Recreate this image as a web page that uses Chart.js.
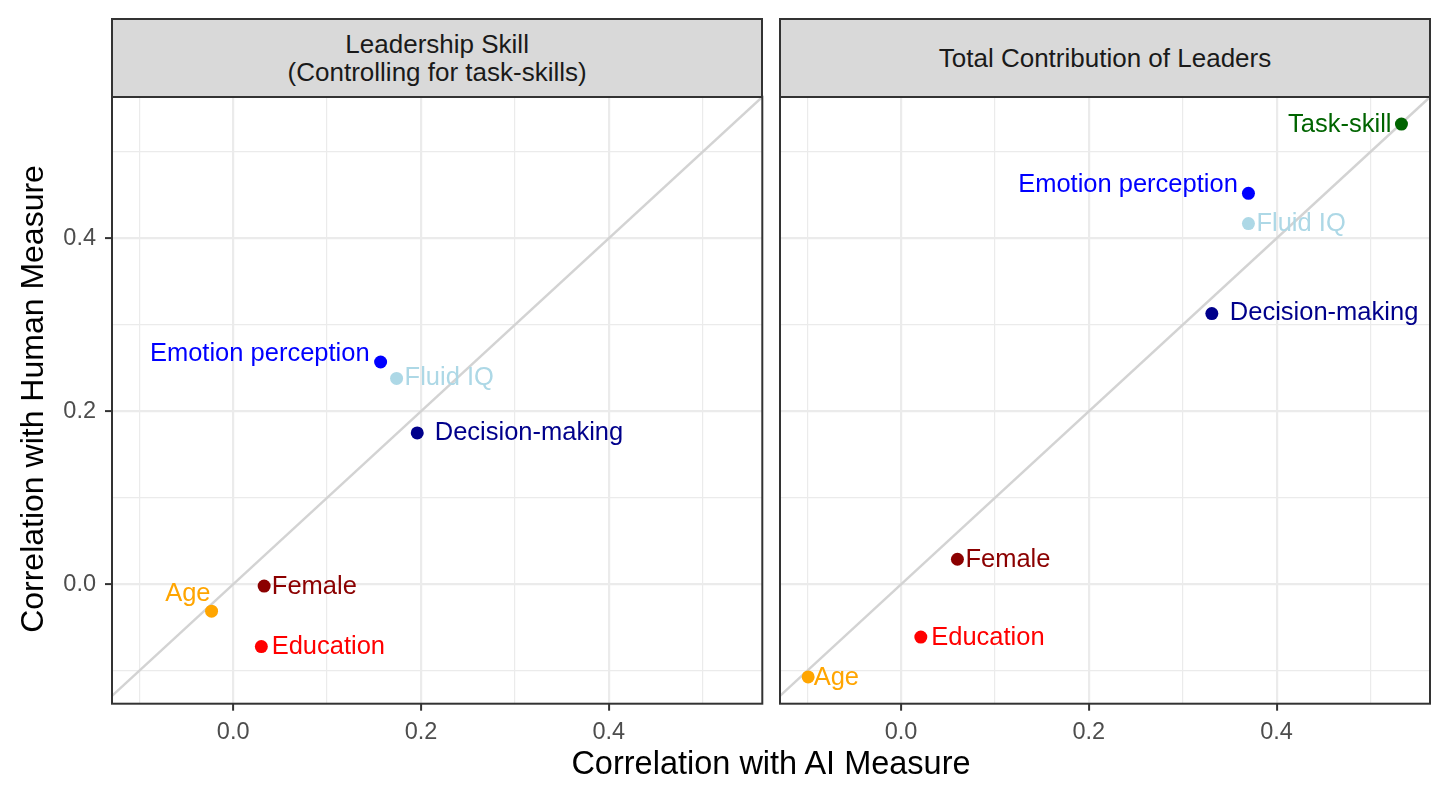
<!DOCTYPE html>
<html>
<head>
<meta charset="utf-8">
<script src="https://cdn.jsdelivr.net/npm/chart.js@4.4.1/dist/chart.umd.min.js"></script>
<style>
html,body{margin:0;padding:0;background:#fff;}
body{width:1456px;height:793px;position:relative;overflow:hidden;font-family:'Liberation Sans',Arial,sans-serif;}
canvas{position:absolute;}
.strip{position:absolute;background:#D9D9D9;border:2px solid #333333;box-sizing:border-box;color:#1A1A1A;font-size:26px;line-height:28px;display:flex;flex-direction:column;justify-content:center;align-items:center;text-align:center;z-index:2;white-space:nowrap;}
.xtitle{position:absolute;left:371px;top:747px;width:800px;height:32.5px;font-size:32.5px;line-height:32.5px;text-align:center;color:#000;white-space:nowrap;}
.ytitle{position:absolute;left:-317.8px;top:383px;width:700px;height:32px;font-size:32px;line-height:32px;text-align:center;color:#000;transform:rotate(-90deg);white-space:nowrap;}
</style>
</head>
<body>
<canvas id="left" width="780" height="680" style="left:0px;top:80px;width:780px;height:680px;"></canvas>
<canvas id="right" width="686" height="680" style="left:770px;top:80px;width:686px;height:680px;"></canvas>
<div class="strip" id="stripL" style="left:111px;top:18.3px;width:652.3px;height:79.4px;"></div>
<div class="strip" id="stripR" style="left:779px;top:18.3px;width:652px;height:79.4px;"></div>
<div class="xtitle" id="xt"></div>
<div class="ytitle" id="yt"></div>
<script>
// ---- data ----
const facetTitles = [["Leadership Skill", "(Controlling for task-skills)"], ["Total Contribution of Leaders"]];
const xAxisTitle = "Correlation with AI Measure";
const yAxisTitle = "Correlation with Human Measure";

const leaderLabels = ["Emotion perception", "Fluid IQ", "Decision-making", "Female", "Age", "Education"];
const leaderAI     = [0.157, 0.174, 0.196, 0.033, -0.023, 0.030];
const leaderHuman  = [0.257, 0.238, 0.175, -0.002, -0.031, -0.072];

const totalLabels = ["Task-skill", "Emotion perception", "Fluid IQ", "Decision-making", "Female", "Education", "Age"];
const totalAI     = [0.533, 0.370, 0.370, 0.331, 0.060, 0.021, -0.099];
const totalHuman  = [0.532, 0.452, 0.417, 0.313, 0.029, -0.061, -0.107];

const majorTicks = [0, 0.2, 0.4];
const majorTickLabels = ["0.0", "0.2", "0.4"];
const minorTicks = [-0.1, 0.1, 0.3, 0.5];
const diagonal = [-1, 1]; // reference line y = x

// ---- styles ----
const xLimits = [-0.129, 0.5634];
const yLimits = [-0.138, 0.5637];
const colorOf = {
  "Task-skill": "#006400", "Emotion perception": "#0000FF", "Fluid IQ": "#ADD8E6",
  "Decision-making": "#00008B", "Female": "#8B0000", "Education": "#FF0000", "Age": "#FFA500"
};
// label placement: [dx px, dy px, align]
const leaderPlace = {
  "Emotion perception": [-11, -8.3, "right"], "Fluid IQ": [8, 0, "left"],
  "Decision-making": [17.5, 0, "left"], "Female": [7.7, 1.3, "left"],
  "Age": [-1, -17.3, "right"], "Education": [10.3, 0.6, "left"]
};
const totalPlace = {
  "Task-skill": [-10, 0.7, "right"], "Emotion perception": [-10.6, -8, "right"],
  "Fluid IQ": [8, 0.3, "left"], "Decision-making": [18, -0.7, "left"],
  "Female": [8, 1.2, "left"], "Education": [10.4, 1, "left"], "Age": [5.5, 1, "left"]
};
const FONT = "'Liberation Sans', Arial, sans-serif";
Chart.defaults.font.family = FONT;

document.getElementById('stripL').innerHTML = facetTitles[0].map(t => '<div>' + t + '</div>').join('');
document.getElementById('stripR').innerHTML = facetTitles[1].map(t => '<div>' + t + '</div>').join('');
document.getElementById('xt').textContent = xAxisTitle;
document.getElementById('yt').textContent = yAxisTitle;

const allTicks = minorTicks.concat(majorTicks).sort((a, b) => a - b);
const isMajor = v => majorTicks.some(m => Math.abs(m - v) < 1e-9);
const labelFor = v => { const i = majorTicks.findIndex(m => Math.abs(m - v) < 1e-9); return i >= 0 ? majorTickLabels[i] : ''; };

function gridOpts(drawTicks) {
  return {
    color: '#EBEBEB',
    lineWidth: ctx => (ctx.tick && isMajor(ctx.tick.value)) ? 2.2 : 1.2,
    drawTicks: drawTicks,
    tickLength: 7,
    tickWidth: 2,
    tickColor: ctx => (ctx.tick && isMajor(ctx.tick.value)) ? '#333333' : 'rgba(0,0,0,0)'
  };
}
function noPad(s) { s.paddingTop = 0; s.paddingBottom = 0; s.paddingLeft = 0; s.paddingRight = 0; }

function makeChart(id, labels, ai, human, place, showY, yWidth, pad) {
  const labelPlugin = {
    id: 'labels_' + id,
    afterDatasetsDraw(chart) {
      const ctx = chart.ctx;
      const meta = chart.getDatasetMeta(1);
      ctx.save();
      ctx.font = '25.5px ' + FONT;
      ctx.textBaseline = 'middle';
      meta.data.forEach((pt, i) => {
        const name = labels[i];
        const p = place[name];
        ctx.fillStyle = colorOf[name];
        ctx.textAlign = p[2];
        ctx.fillText(name, pt.x + p[0], pt.y + p[1]);
      });
      ctx.restore();
    },
    afterDraw(chart) {
      const a = chart.chartArea, ctx = chart.ctx;
      ctx.save();
      ctx.strokeStyle = '#333333';
      ctx.lineWidth = 2;
      ctx.strokeRect(a.left, a.top, a.right - a.left, a.bottom - a.top);
      ctx.restore();
    }
  };
  return new Chart(document.getElementById(id), {
    type: 'scatter',
    data: {
      datasets: [
        {
          type: 'line',
          data: diagonal.map(v => ({ x: v, y: v })),
          borderColor: '#D3D3D3',
          borderWidth: 2.5,
          pointRadius: 0,
          fill: false,
          order: 2,
          clip: 0
        },
        {
          data: ai.map((x, i) => ({ x: x, y: human[i] })),
          backgroundColor: labels.map(l => colorOf[l]),
          borderWidth: 0,
          pointRadius: 6.5,
          pointHoverRadius: 6.5,
          order: 1
        }
      ]
    },
    options: {
      responsive: false,
      animation: false,
      events: [],
      layout: { padding: pad },
      plugins: { legend: { display: false }, tooltip: { enabled: false } },
      scales: {
        x: {
          type: 'linear', min: xLimits[0], max: xLimits[1],
          afterBuildTicks: s => { s.ticks = allTicks.map(v => ({ value: v })); },
          afterFit: s => { s.height = 56.3; noPad(s); },
          ticks: { callback: v => labelFor(v), autoSkip: false, maxRotation: 0, color: '#4D4D4D', font: { size: 23.5 }, padding: 8 },
          grid: gridOpts(true),
          border: { display: false }
        },
        y: {
          type: 'linear', min: yLimits[0], max: yLimits[1],
          afterBuildTicks: s => { s.ticks = allTicks.map(v => ({ value: v })); },
          afterFit: s => { s.width = yWidth; noPad(s); },
          ticks: { display: showY, callback: v => labelFor(v), autoSkip: false, color: '#4D4D4D', font: { size: 23.5 }, padding: 9 },
          grid: gridOpts(showY),
          border: { display: false }
        }
      }
    },
    plugins: [labelPlugin]
  });
}

makeChart('left', leaderLabels, leaderAI, leaderHuman, leaderPlace, true, 112, { left: 0, top: 16.7, right: 17.7, bottom: 0 });
makeChart('right', totalLabels, totalAI, totalHuman, totalPlace, false, 0, { left: 10, top: 16.7, right: 26, bottom: 0 });
</script>
</body>
</html>
